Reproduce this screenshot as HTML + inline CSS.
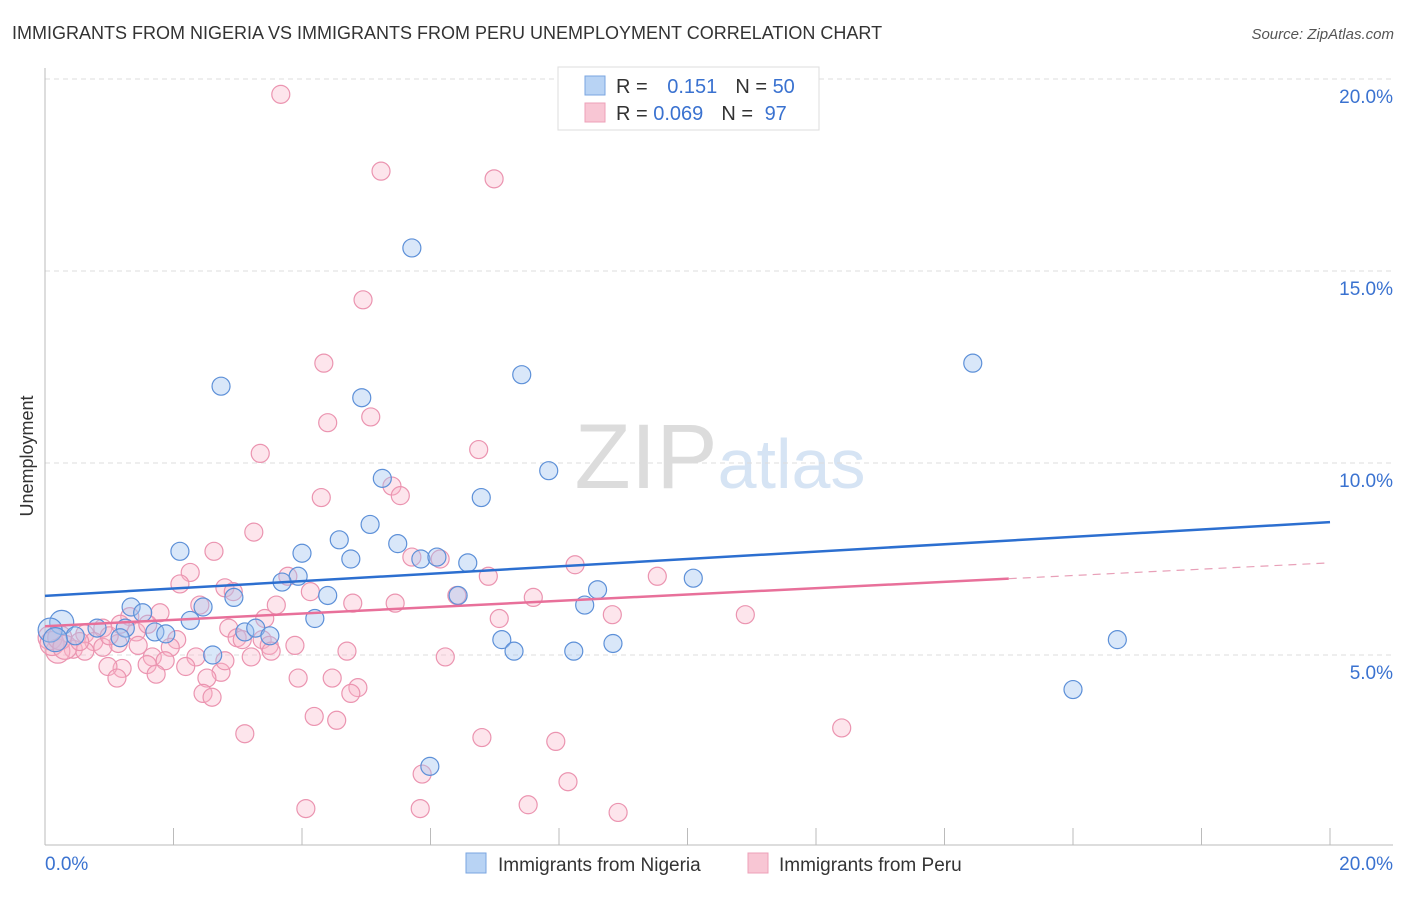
<!DOCTYPE html>
<html><head><meta charset="utf-8"><style>
body{margin:0;background:#fff;font-family:"Liberation Sans",sans-serif}
svg text{font-family:"Liberation Sans",sans-serif}
</style></head><body>
<svg id="chart" width="1406" height="892" viewBox="0 0 1406 892" xmlns="http://www.w3.org/2000/svg">
<text x="12" y="39" font-size="18" fill="#333">IMMIGRANTS FROM NIGERIA VS IMMIGRANTS FROM PERU UNEMPLOYMENT CORRELATION CHART</text>
<text x="1394" y="39" font-size="15" fill="#555" text-anchor="end" font-style="italic">Source: ZipAtlas.com</text>
<text x="720" y="488" font-size="92" fill="#e4e4e4" text-anchor="middle" font-family="Liberation Serif"><tspan fill="#dcdcdc">ZIP</tspan><tspan fill="#d6e4f4" font-family="Liberation Sans" font-size="70">atlas</tspan></text>
<g id="grid"></g>
<g id="axes"></g>
<g id="peru"></g>
<g id="nigeria"></g>
<g id="lines"></g>
<text transform="translate(33,456) rotate(-90)" font-size="18" fill="#333" text-anchor="middle">Unemployment</text>
<g>
<rect x="558" y="67" width="261" height="63" fill="#fff" stroke="#ddd"/>
<rect x="585" y="76" width="20" height="19" fill="#b8d3f4" stroke="#7aa6e0"/>
<rect x="585" y="103" width="20" height="19" fill="#f8c6d4" stroke="#eea0b8"/>
<text x="616" y="93" font-size="20" fill="#333">R = <tspan fill="#3a72d0" dx="14">0.151</tspan><tspan dx="18" fill="#333">N = </tspan><tspan fill="#3a72d0">50</tspan></text>
<text x="616" y="120" font-size="20" fill="#333">R = <tspan fill="#3a72d0">0.069</tspan><tspan dx="18" fill="#333">N = </tspan><tspan fill="#3a72d0" dx="6">97</tspan></text>
</g>
<g>
<rect x="466" y="853" width="20" height="20" fill="#b8d3f4" stroke="#7aa6e0"/>
<text x="498" y="871" font-size="19" fill="#333">Immigrants from Nigeria</text>
<rect x="748" y="853" width="20" height="20" fill="#f8c6d4" stroke="#eea0b8"/>
<text x="779" y="871" font-size="19" fill="#333">Immigrants from Peru</text>
</g>
</svg>
<script>
const yTicks=[5,10,15,20];
const yTickLabels=["5.0%","10.0%","15.0%","20.0%"];
const xTickCount=[0,2,4,6,8,10,12,14,16,18,20];
const nigeriaX=[5.71,2.74,7.42,14.44,4.93,7.84,5.25,6.79,5.06,4.58,5.49,2.10,4.0,4.76,5.85,6.1,6.58,3.94,3.69,10.09,8.6,2.94,4.4,6.43,1.34,2.46,8.4,1.52,4.2,2.26,0.26,0.81,1.25,1.71,1.88,3.11,3.28,3.5,1.17,0.47,0.08,7.11,16.69,8.84,7.3,8.23,2.61,16.0,5.99,0.16];
const nigeriaY=[15.6,12.0,12.3,12.6,11.7,9.8,9.6,9.1,8.4,8.0,7.9,7.7,7.65,7.5,7.5,7.55,7.4,7.05,6.9,7.0,6.7,6.5,6.55,6.55,6.25,6.25,6.3,6.1,5.95,5.9,5.85,5.7,5.7,5.6,5.55,5.6,5.7,5.5,5.45,5.5,5.65,5.4,5.4,5.3,5.1,5.1,5.0,4.1,2.1,5.4];
const peruX=[3.67,5.23,6.99,4.95,4.34,5.07,4.4,6.75,3.35,4.3,5.4,5.53,3.25,2.63,5.71,6.15,8.25,2.26,3.78,6.9,9.53,2.1,2.8,2.93,4.13,6.41,7.6,3.6,4.79,5.45,2.41,1.79,8.83,10.9,7.07,1.32,2.86,0.9,1.42,0.62,2.05,2.99,3.38,3.49,3.07,0.76,1.14,1.45,1.95,3.89,0.9,0.44,0.2,0.62,3.52,1.67,2.35,3.21,4.7,6.23,1.87,1.59,1.2,0.98,2.19,2.74,1.73,1.12,3.94,4.47,2.52,4.87,4.76,2.46,2.6,4.19,4.54,12.4,3.11,6.8,7.95,5.87,8.14,4.06,5.84,7.52,8.92,0.08,0.11,0.23,0.31,0.54,2.8,1.0,3.42,1.17,1.6];
const peruY=[19.6,17.6,17.4,14.25,12.6,11.2,11.05,10.35,10.25,9.1,9.4,9.15,8.2,7.7,7.55,7.5,7.35,7.15,7.05,7.05,7.05,6.85,6.75,6.65,6.65,6.55,6.5,6.3,6.35,6.35,6.3,6.1,6.05,6.05,5.95,6.0,5.7,5.7,5.6,5.55,5.4,5.45,5.4,5.25,5.4,5.35,5.3,5.25,5.2,5.25,5.2,5.15,5.1,5.1,5.1,4.95,4.95,4.95,5.1,4.95,4.85,4.75,4.65,4.7,4.7,4.55,4.5,4.4,4.4,4.4,4.4,4.15,4.0,4.0,3.9,3.4,3.3,3.1,2.95,2.85,2.75,1.9,1.7,1.0,1.0,1.1,0.9,5.45,5.3,5.45,5.2,5.35,4.85,5.5,5.95,5.8,5.8];
const nigeriaTrend=[6.54,8.46];
const peruTrend=[5.75,7.4];
const peruSolidEnd=15;
const NS="http://www.w3.org/2000/svg";
const X0=45,X1=1330,Y0=847,PY=38.4;
function sx(v){return X0+(X1-X0)*v/20;}
function sy(v){return Y0-v*PY;}
function mk(tag,attrs,parent){const e=document.createElementNS(NS,tag);for(const k in attrs)e.setAttribute(k,attrs[k]);parent.appendChild(e);return e;}
const grid=document.getElementById('grid'),axes=document.getElementById('axes');
yTicks.forEach((t,i)=>{
 const l=mk('line',{x1:X0,x2:1393,y1:sy(t),y2:sy(t),stroke:'#ddd','stroke-dasharray':'5,4'},grid);
 
 
 const tx=mk('text',{x:1393,y:sy(t)+24,'font-size':19,fill:'#3a72d0','text-anchor':'end'},axes);
 tx.textContent=yTickLabels[i];
 
 
});
const al=mk('line',{x1:X0,x2:X0,y1:68,y2:845,stroke:'#bbb'},axes);


const bl=mk('line',{x1:X0,x2:1393,y1:845,y2:845,stroke:'#bbb'},axes);


xTickCount.forEach(t=>{
 const l=mk('line',{x1:sx(t),x2:sx(t),y1:828,y2:845,stroke:'#bbb'},axes);
 
 
});
const xl0=mk('text',{x:45,y:870,'font-size':19,fill:'#3a72d0'},axes);xl0.textContent='0.0%';


const xl1=mk('text',{x:1393,y:870,'font-size':19,fill:'#3a72d0','text-anchor':'end'},axes);xl1.textContent='20.0%';


function dots(xs,ys,g,fill,stroke,name){
 xs.forEach((x,i)=>{
  const r=(x<0.4)?12:9;
  const c=mk('circle',{cx:sx(x),cy:sy(ys[i]),r:r,fill:fill,stroke:stroke,'stroke-width':1.2},g);
  
  
 });
}
dots(peruX,peruY,document.getElementById('peru'),'rgba(248,180,200,0.35)','#eb94b0','peru-point');
dots(nigeriaX,nigeriaY,document.getElementById('nigeria'),'rgba(160,196,240,0.4)','#5d90d8','nigeria-point');
const lg=document.getElementById('lines');
const nl=mk('line',{x1:sx(0),y1:sy(nigeriaTrend[0]),x2:sx(20),y2:sy(nigeriaTrend[1]),stroke:'#2c6fd0','stroke-width':2.5},lg);


const pe=peruTrend[0]+(peruTrend[1]-peruTrend[0])*peruSolidEnd/20;
const pl=mk('line',{x1:sx(0),y1:sy(peruTrend[0]),x2:sx(peruSolidEnd),y2:sy(pe),stroke:'#e8709a','stroke-width':2.5},lg);


const pd=mk('line',{x1:sx(peruSolidEnd),y1:sy(pe),x2:sx(20),y2:sy(peruTrend[1]),stroke:'#e8a0b8','stroke-width':1.2,'stroke-dasharray':'8,6'},lg);


</script>
</body></html>
